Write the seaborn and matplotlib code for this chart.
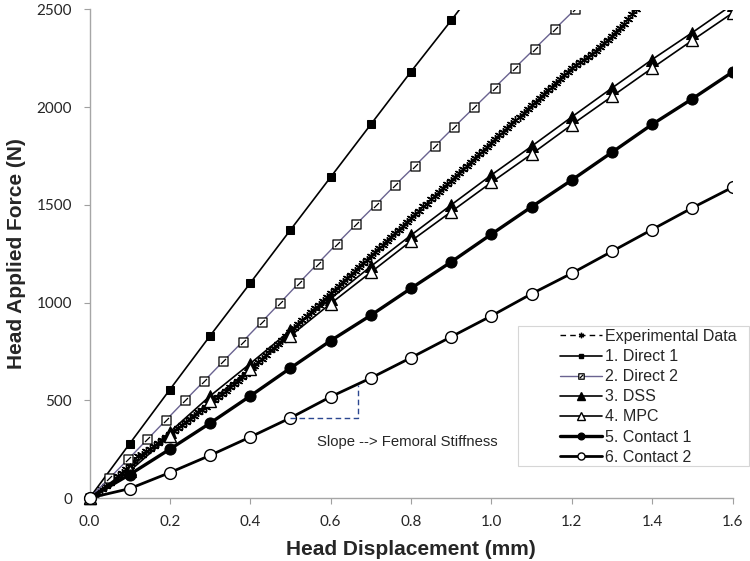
import numpy as np
import pandas as pd
import matplotlib
matplotlib.use("Agg")
import matplotlib.pyplot as plt
from matplotlib.path import Path
from matplotlib.patches import Rectangle
from matplotlib.lines import Line2D
import seaborn as sns

# ---------------- data ----------------
exp_x = [0.00, 0.01, 0.02, 0.03, 0.04, 0.05, 0.06, 0.07, 0.08, 0.09,
         0.10, 0.11, 0.12, 0.13, 0.14, 0.15, 0.16, 0.17, 0.18, 0.19,
         0.20, 0.21, 0.22, 0.23, 0.24, 0.25, 0.26, 0.27, 0.28, 0.29,
         0.30, 0.31, 0.32, 0.33, 0.34, 0.35, 0.36, 0.37, 0.38, 0.39,
         0.40, 0.41, 0.42, 0.43, 0.44, 0.45, 0.46, 0.47, 0.48, 0.49,
         0.50, 0.51, 0.52, 0.53, 0.54, 0.55, 0.56, 0.57, 0.58, 0.59,
         0.60, 0.61, 0.62, 0.63, 0.64, 0.65, 0.66, 0.67, 0.68, 0.69,
         0.70, 0.71, 0.72, 0.73, 0.74, 0.75, 0.76, 0.77, 0.78, 0.79,
         0.80, 0.81, 0.82, 0.83, 0.84, 0.85, 0.86, 0.87, 0.88, 0.89,
         0.90, 0.91, 0.92, 0.93, 0.94, 0.95, 0.96, 0.97, 0.98, 0.99,
         1.00, 1.01, 1.02, 1.03, 1.04, 1.05, 1.06, 1.07, 1.08, 1.09,
         1.10, 1.11, 1.12, 1.13, 1.14, 1.15, 1.16, 1.17, 1.18, 1.19,
         1.20, 1.21, 1.22, 1.23, 1.24, 1.25, 1.26, 1.27, 1.28, 1.29,
         1.30, 1.31, 1.32, 1.33, 1.34, 1.35, 1.36]
exp_y = [0, 12, 28, 45, 60, 78, 95, 112, 128, 146,
         165, 188, 215, 222, 238, 250, 264, 280, 297, 313,
         330, 344, 360, 375, 391, 406, 421, 440, 448, 468,
         484, 500, 516, 532, 549, 566, 583, 600, 617, 636,
         655, 675, 694, 713, 732, 755, 768, 790, 810, 830,
         850, 870, 890, 910, 930, 950, 970, 990, 1009, 1028,
         1047, 1067, 1086, 1105, 1128, 1141, 1163, 1182, 1201, 1220,
         1240, 1259, 1278, 1297, 1317, 1336, 1355, 1374, 1393, 1413,
         1432, 1451, 1470, 1493, 1506, 1528, 1547, 1566, 1586, 1605,
         1624, 1643, 1663, 1682, 1701, 1720, 1740, 1759, 1778, 1797,
         1817, 1836, 1859, 1871, 1894, 1913, 1932, 1951, 1971, 1990,
         2009, 2028, 2048, 2067, 2090, 2101, 2125, 2144, 2163, 2182,
         2200, 2215, 2230, 2244, 2258, 2272, 2290, 2308, 2326, 2345,
         2365, 2385, 2405, 2427, 2450, 2477, 2505]

fe_x = [0.0, 0.1, 0.2, 0.3, 0.4, 0.5, 0.6, 0.7, 0.8, 0.9, 1.0, 1.1, 1.2, 1.3, 1.4, 1.5, 1.6]
direct1_x = [0.0, 0.1, 0.2, 0.3, 0.4, 0.5, 0.6, 0.7, 0.8, 0.9, 1.0]
direct1_y = [0, 278, 555, 830, 1100, 1372, 1642, 1912, 2182, 2444, 2715]
direct2_x = [0.0, 0.049, 0.097, 0.144, 0.191, 0.238, 0.286, 0.333, 0.381, 0.428,
             0.475, 0.521, 0.568, 0.615, 0.663, 0.712, 0.760, 0.810, 0.859, 0.908,
             0.958, 1.008, 1.058, 1.108, 1.158, 1.208]
direct2_y = [0, 100, 200, 300, 400, 500, 600, 700, 800, 900,
             1000, 1100, 1200, 1300, 1400, 1500, 1600, 1700, 1800, 1900,
             2000, 2100, 2200, 2300, 2400, 2500]
dss_y = [0, 150, 338, 522, 688, 858, 1020, 1185, 1345, 1500, 1653, 1800, 1950, 2098, 2244, 2382, 2525]
mpc_y = [0, 138, 318, 495, 660, 830, 995, 1155, 1315, 1465, 1615, 1760, 1910, 2055, 2200, 2342, 2482]
contact1_y = [0, 120, 250, 383, 522, 665, 805, 935, 1073, 1208, 1350, 1490, 1627, 1769, 1912, 2043, 2180]
contact2_y = [0, 48, 130, 218, 312, 410, 518, 614, 718, 825, 932, 1045, 1150, 1262, 1374, 1485, 1590]

labels = ["Experimental Data", "1. Direct 1", "2. Direct 2", "3. DSS", "4. MPC",
          "5. Contact 1", "6. Contact 2"]
x_ticks = [0.0, 0.2, 0.4, 0.6, 0.8, 1.0, 1.2, 1.4, 1.6]
y_ticks = [0, 500, 1000, 1500, 2000, 2500]

slope_x = [0.5, 0.667, 0.667]
slope_y = [410, 410, 580]

# ---------------- style ----------------
sns.set_style("ticks")
plt.rcParams["font.family"] = ["Liberation Sans", "DejaVu Sans"]

fig = plt.figure(figsize=(7.5, 5.61), dpi=100)
ax = fig.add_axes([89.5 / 750, 1 - 498 / 561, 643 / 750, 488.5 / 561])

# slash-square marker
slash_sq = Path([(-1, -1), (1, -1), (1, 1), (-1, 1), (-1, -1), (-0.55, -0.55), (0.55, 0.55)],
                [Path.MOVETO, Path.LINETO, Path.LINETO, Path.LINETO, Path.CLOSEPOLY,
                 Path.MOVETO, Path.LINETO])

series = [
    (exp_x, exp_y, dict(color="black", lw=1.0, ls=(0, (4, 3)), marker=(6, 2, 0), ms=6.5,
                        mew=1.0, mec="black")),
    (direct1_x, direct1_y, dict(color="black", lw=1.2, marker="s", ms=5.5, mfc="black",
                                mec="black")),
    (direct2_x, direct2_y, dict(color="#6a6390", lw=1.0, marker=slash_sq, ms=6.5, mfc="white",
                                mec="black", mew=0.9)),
    (fe_x, dss_y, dict(color="black", lw=1.2, marker="^", ms=9, mfc="black", mec="black")),
    (fe_x, mpc_y, dict(color="black", lw=1.2, marker="^", ms=9, mfc="white", mec="black",
                       mew=1.0)),
    (fe_x, contact1_y, dict(color="black", lw=2.4, marker="o", ms=8, mfc="black", mec="black")),
    (fe_x, contact2_y, dict(color="black", lw=2.0, marker="o", ms=8.5, mfc="white", mec="black",
                            mew=1.0)),
]

for (xs, ys, kw), lab in zip(series, labels):
    df = pd.DataFrame({"x": xs, "y": ys})
    sns.lineplot(data=df, x="x", y="y", ax=ax, sort=False, estimator=None, legend=False, **kw)

# origin markers drawn unclipped (as in reference)
for (xs, ys, kw) in series:
    ax.plot(xs[0], ys[0], marker=kw["marker"], ms=kw["ms"],
            mfc=kw.get("mfc", "black"), mec="black", ls="none", clip_on=False, zorder=5)

# slope annotation
ax.plot(slope_x, slope_y, color="#2b4790", lw=1.0, ls=(0, (4, 2.5)))
ax.text(0.565, 288, "Slope --> Femoral Stiffness", fontsize=10.7, color="#262626",
        va="center", ha="left")

ax.set_xlim(0, 1.6)
ax.set_ylim(0, 2500)
ax.set_xticks(x_ticks)
ax.set_yticks(y_ticks)
ax.set_xticklabels([f"{v:.1f}" for v in x_ticks], family=["Lato", "DejaVu Sans"], fontsize=11)
ax.set_yticklabels([str(v) for v in y_ticks], family=["Lato", "DejaVu Sans"], fontsize=11)
ax.tick_params(axis="both", direction="out", length=4.5, width=0.8, color="#a0a0a0",
               labelcolor="#262626")
ax.tick_params(axis="y", pad=8)
ax.tick_params(axis="x", pad=8)
for s in ["top", "right"]:
    ax.spines[s].set_visible(False)
for s in ["left", "bottom"]:
    ax.spines[s].set_color("#a6a6a6")
    ax.spines[s].set_linewidth(1.0)

ax.set_xlabel("Head Displacement (mm)", fontsize=15, fontweight="bold", labelpad=8)
ax.set_ylabel("Head Applied Force (N)", fontsize=15, fontweight="bold", labelpad=8)

# legend handles (style proxies matching each series)
handles = []
for (xs, ys, kw) in series:
    hk = dict(kw)
    hk["ms"] = kw["ms"] * 0.6
    handles.append(Line2D([], [], **hk))
leg = ax.legend(handles, labels, loc="upper left", bbox_to_anchor=(552 / 750, 1 - 321 / 561),
                bbox_transform=fig.transFigure, frameon=False, fontsize=11.5, numpoints=1,
                handlelength=2.6, handletextpad=0.2, labelspacing=0.32, borderpad=0)
fig.patches.append(Rectangle((518 / 750, 1 - 466 / 561), 231 / 750, 140 / 561,
                             transform=fig.transFigure, fill=False, edgecolor="#d6d6d6",
                             lw=0.8))

fig.savefig("out.png", dpi=100)
